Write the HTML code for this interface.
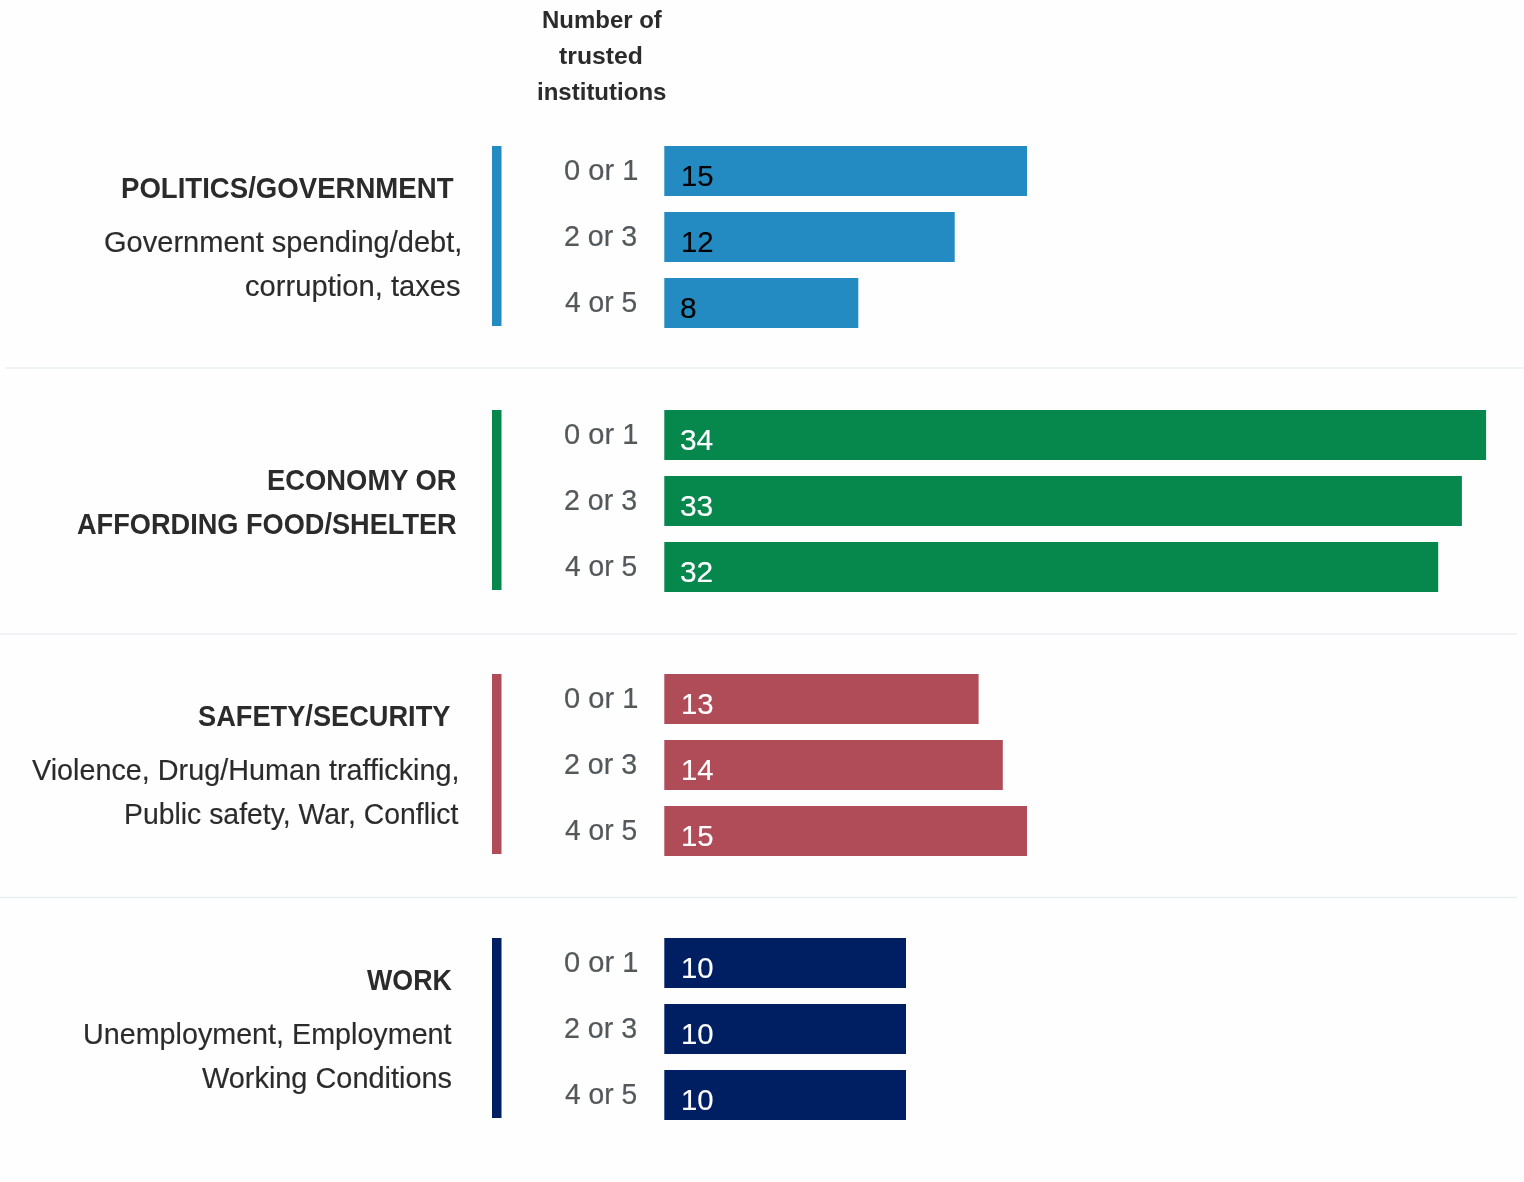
<!DOCTYPE html>
<html lang="en">
<head>
<meta charset="utf-8">
<meta name="viewport" content="width=1524">
<title>Most important problem, by number of trusted institutions</title>
<style>
html,body{margin:0;padding:0;width:1524px;height:1182px;background:#fefefe;}
body{position:relative;font-family:"Liberation Sans",Arial,Helvetica,sans-serif;}
.chart{position:absolute;left:0;top:0;width:1524px;height:1182px;background:#fefefe;overflow:hidden;}
.t{position:absolute;display:block;white-space:nowrap;margin:0;padding:0;font-weight:400;transform-origin:0 0;}
.h{font-size:24px;line-height:27px;height:27px;font-weight:700;color:#2b2b2b;}
.title{font-size:29.5px;line-height:33px;height:33px;font-weight:700;color:#2b2b2b;}
.sub{font-size:29.2px;line-height:32px;height:32px;color:#2b2b2b;-webkit-text-stroke:0.15px #2b2b2b;}
.lab{font-size:29px;line-height:32px;height:32px;color:#54585a;-webkit-text-stroke:0.2px #54585a;}
.val{font-size:29px;line-height:32px;height:32px;color:#fff;-webkit-text-stroke:0.15px currentColor;}
.politics .val{color:#000;}
h2,p{margin:0;padding:0;font-size:inherit;font-weight:inherit;}
.accent{position:absolute;left:492px;width:10px;height:180px;}
.bar{position:absolute;left:664px;height:50px;}
.sep{position:absolute;height:1px;}
</style>
</head>
<body>
<main class="chart">
<header class="col-head">
  <span class="t h" style="left:542.00px;top:6px;transform:scaleX(0.9983);">Number of</span>
  <span class="t h" style="left:559.14px;top:42px;transform:scaleX(1.0314);">trusted</span>
  <span class="t h" style="left:537.10px;top:78px;transform:scaleX(1.0008);">institutions</span>
</header>

<section class="group politics">
  <div class="category">
    <h2>
      <span class="t title" style="left:120.83px;top:171px;transform:scaleX(0.9349);">POLITICS/GOVERNMENT</span>
    </h2>
    <p class="t sub" style="left:103.81px;top:226px;transform:scaleX(0.9948);">Government spending/debt,</p>
    <p class="t sub" style="left:245.35px;top:270px;transform:scaleX(0.9995);">corruption, taxes</p>
  </div>
  <div class="accent" style="top:146px;background:linear-gradient(90deg,#238bc1 0,#238bc1 9px,#90c4e0 9px,#90c4e0 10px)"></div>
  <div class="row">
    <span class="t lab" style="left:563.70px;top:154px;transform:scaleX(1.0021);">0 or 1</span>
    <div class="bar" style="top:146px;width:363px;background:linear-gradient(90deg,#65aed3 0,#65aed3 1px,#238bc1 1px,#238bc1 363px)"><span class="t val" style="left:16.63px;top:14px;transform:scaleX(1.0100);">15</span></div>
  </div>
  <div class="row">
    <span class="t lab" style="left:563.92px;top:220px;transform:scaleX(0.9860);">2 or 3</span>
    <div class="bar" style="top:212px;width:291px;background:linear-gradient(90deg,#65aed3 0,#65aed3 1px,#238bc1 1px,#238bc1 290px,#65add3 290px,#65add3 291px)"><span class="t val" style="left:16.63px;top:14px;transform:scaleX(1.0100);">12</span></div>
  </div>
  <div class="row">
    <span class="t lab" style="left:564.91px;top:286px;transform:scaleX(0.9724);">4 or 5</span>
    <div class="bar" style="top:278px;width:195px;background:linear-gradient(90deg,#65aed3 0,#65aed3 1px,#238bc1 1px,#238bc1 194px,#bcdcec 194px,#bcdcec 195px)"><span class="t val" style="left:15.91px;top:14px;transform:scaleX(1.0300);">8</span></div>
  </div>
</section>
<div class="sep" style="left:6px;top:367px;width:1518px;height:2px;background:#eff3f6"></div>

<section class="group economy">
  <div class="category">
    <h2>
      <span class="t title" style="left:266.94px;top:463px;transform:scaleX(0.9279);">ECONOMY OR</span>
      <span class="t title" style="left:76.91px;top:507px;transform:scaleX(0.9207);">AFFORDING FOOD/SHELTER</span>
    </h2>
  </div>
  <div class="accent" style="top:410px;background:linear-gradient(90deg,#06884d 0,#06884d 9px,#82c3a6 9px,#82c3a6 10px)"></div>
  <div class="row">
    <span class="t lab" style="left:563.70px;top:418px;transform:scaleX(1.0021);">0 or 1</span>
    <div class="bar" style="top:410px;width:823px;background:linear-gradient(90deg,#50ab82 0,#50ab82 1px,#06884d 1px,#06884d 822px,#e5f2ec 822px,#e5f2ec 823px)"><span class="t val" style="left:16.17px;top:14px;transform:scaleX(1.0300);">34</span></div>
  </div>
  <div class="row">
    <span class="t lab" style="left:563.92px;top:484px;transform:scaleX(0.9860);">2 or 3</span>
    <div class="bar" style="top:476px;width:798px;background:linear-gradient(90deg,#50ab82 0,#50ab82 1px,#06884d 1px,#06884d 797px,#1f945f 797px,#1f945f 798px)"><span class="t val" style="left:16.17px;top:14px;transform:scaleX(1.0300);">33</span></div>
  </div>
  <div class="row">
    <span class="t lab" style="left:564.91px;top:550px;transform:scaleX(0.9724);">4 or 5</span>
    <div class="bar" style="top:542px;width:775px;background:linear-gradient(90deg,#50ab82 0,#50ab82 1px,#06884d 1px,#06884d 774px,#cce6db 774px,#cce6db 775px)"><span class="t val" style="left:16.17px;top:14px;transform:scaleX(1.0300);">32</span></div>
  </div>
</section>
<div class="sep" style="left:0px;top:633px;width:1517px;height:2px;background:#eff3f6"></div>

<section class="group safety">
  <div class="category">
    <h2>
      <span class="t title" style="left:198.31px;top:699px;transform:scaleX(0.9222);">SAFETY/SECURITY</span>
    </h2>
    <p class="t sub" style="left:32.45px;top:754px;transform:scaleX(0.9856);">Violence, Drug/Human trafficking,</p>
    <p class="t sub" style="left:123.81px;top:798px;transform:scaleX(0.9722);">Public safety, War, Conflict</p>
  </div>
  <div class="accent" style="top:674px;background:linear-gradient(90deg,#b04b58 0,#b04b58 9px,#d7a4ab 9px,#d7a4ab 10px)"></div>
  <div class="row">
    <span class="t lab" style="left:563.70px;top:682px;transform:scaleX(1.0021);">0 or 1</span>
    <div class="bar" style="top:674px;width:315px;background:linear-gradient(90deg,#c7818a 0,#c7818a 1px,#b04b58 1px,#b04b58 314px,#cf939a 314px,#cf939a 315px)"><span class="t val" style="left:16.63px;top:14px;transform:scaleX(1.0100);">13</span></div>
  </div>
  <div class="row">
    <span class="t lab" style="left:563.92px;top:748px;transform:scaleX(0.9860);">2 or 3</span>
    <div class="bar" style="top:740px;width:339px;background:linear-gradient(90deg,#c7818a 0,#c7818a 1px,#b04b58 1px,#b04b58 338px,#c06f79 338px,#c06f79 339px)"><span class="t val" style="left:16.63px;top:14px;transform:scaleX(1.0100);">14</span></div>
  </div>
  <div class="row">
    <span class="t lab" style="left:564.91px;top:814px;transform:scaleX(0.9724);">4 or 5</span>
    <div class="bar" style="top:806px;width:363px;background:linear-gradient(90deg,#c7818a 0,#c7818a 1px,#b04b58 1px,#b04b58 363px)"><span class="t val" style="left:16.63px;top:14px;transform:scaleX(1.0100);">15</span></div>
  </div>
</section>
<div class="sep" style="left:0px;top:896px;width:1517px;height:1px;background:#fafcfc"></div>
<div class="sep" style="left:0px;top:897px;width:1517px;height:1px;background:#e8eff2"></div>
<div class="sep" style="left:0px;top:898px;width:1517px;height:1px;background:#f9fbfc"></div>

<section class="group work">
  <div class="category">
    <h2>
      <span class="t title" style="left:367.20px;top:963px;transform:scaleX(0.9086);">WORK</span>
    </h2>
    <p class="t sub" style="left:83.39px;top:1018px;transform:scaleX(0.9835);">Unemployment, Employment</p>
    <p class="t sub" style="left:202.25px;top:1062px;transform:scaleX(0.9899);">Working Conditions</p>
  </div>
  <div class="accent" style="top:938px;background:linear-gradient(90deg,#001e62 0,#001e62 9px,#7f8eb0 9px,#7f8eb0 10px)"></div>
  <div class="row">
    <span class="t lab" style="left:563.70px;top:946px;transform:scaleX(1.0021);">0 or 1</span>
    <div class="bar" style="top:938px;width:242px;background:linear-gradient(90deg,#4c6191 0,#4c6191 1px,#001e62 1px,#001e62 242px)"><span class="t val" style="left:16.63px;top:14px;transform:scaleX(1.0100);">10</span></div>
  </div>
  <div class="row">
    <span class="t lab" style="left:563.92px;top:1012px;transform:scaleX(0.9860);">2 or 3</span>
    <div class="bar" style="top:1004px;width:242px;background:linear-gradient(90deg,#4c6191 0,#4c6191 1px,#001e62 1px,#001e62 242px)"><span class="t val" style="left:16.63px;top:14px;transform:scaleX(1.0100);">10</span></div>
  </div>
  <div class="row">
    <span class="t lab" style="left:564.91px;top:1078px;transform:scaleX(0.9724);">4 or 5</span>
    <div class="bar" style="top:1070px;width:242px;background:linear-gradient(90deg,#4c6191 0,#4c6191 1px,#001e62 1px,#001e62 242px)"><span class="t val" style="left:16.63px;top:14px;transform:scaleX(1.0100);">10</span></div>
  </div>
</section>
</main>
</body>
</html>
